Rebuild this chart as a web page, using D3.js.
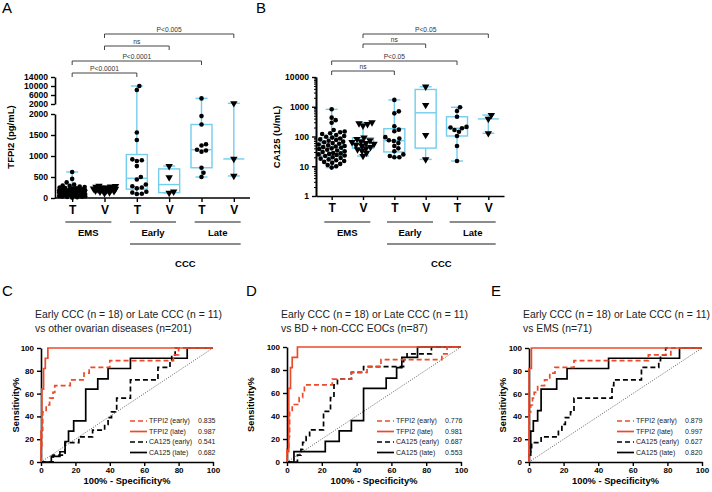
<!DOCTYPE html>
<html>
<head>
<meta charset="utf-8">
<script src="https://cdn.jsdelivr.net/npm/d3@7"></script>
<style>
body { margin: 0; background: #fff; }
svg { display: block; font-family: Arial, "Liberation Sans", sans-serif; }
</style>
</head>
<body>
<div id="svg-container"></div>
<script>
// ---- data: panels A and B ----
const tickLabels = ["T", "V", "T", "V", "T", "V"];
const groupNames = ["EMS", "Early", "Late"];

const tfpi2EmsT = [620, 455, 372, 318, 296, 288, 271, 262, 249, 238, 231, 224, 212, 205, 198, 192, 186, 181, 174, 168, 163, 158, 152, 147, 143, 139, 134, 128, 125, 121, 116, 112, 108, 103, 99, 94, 90, 86, 81, 77, 72, 68, 63, 58, 54, 49, 44, 38, 31, 26, 18, 9];
const tfpi2EmsV = [290, 281, 272, 262, 255, 246, 240, 231, 224, 214, 206, 198, 189, 181, 171, 160, 147, 133, 112];
const tfpi2EarlyT = [10000, 8200, 1560, 1380, 920, 900, 880, 760, 500, 440, 320, 280, 250, 230, 150, 130, 100, 95];
const tfpi2EarlyV = [760, 490, 150, 120];
const tfpi2LateT = [4500, 1950, 1750, 1280, 1250, 1150, 1130, 1100, 720, 600, 500];
const tfpi2LateV = [2300, 930, 525];

const ca125EmsT = [820, 430, 355, 290, 165, 148, 139, 128, 121, 112, 104, 98, 92, 86, 80, 76, 72, 67, 64, 60, 57, 54, 51, 48, 46, 44, 42, 40, 38, 36, 34, 32, 30, 28, 27, 26, 25, 24, 23, 22, 20, 19, 18, 17, 16, 15, 14, 13, 12, 11, 10, 9];
const ca125EmsV = [295, 275, 260, 230, 91, 82, 74, 68, 64, 60, 56, 52, 48, 44, 40, 37, 33, 28, 22];
const ca125EarlyT = [1700, 700, 600, 220, 170, 150, 95, 85, 75, 70, 60, 48, 40, 32, 25, 22, 20, 20];
const ca125EarlyV = [4700, 1140, 112, 17];
const ca125LateT = [960, 720, 460, 210, 200, 190, 165, 145, 104, 48, 15];
const ca125LateV = [525, 390, 128];

const tfpi2Brackets = [[0, 2, "P<0.0001"], [0, 4, "P<0.0001"], [1, 3, "ns"], [1, 5, "P<0.005"]];
const ca125Brackets = [[0, 2, "ns"], [0, 4, "P<0.05"], [1, 3, "ns"], [1, 5, "P<0.05"]];

// ---- data: ROC panels C, D, E  ([100% - specificity, sensitivity]) ----
const rocNames = ["TFPI2 (early)", "TFPI2 (late)", "CA125 (early)", "CA125 (late)"];

const rocC_tfpi2Early = [[0,0],[0,11],[0.5,11],[0.5,28],[1,28],[1,44],[3,44],[3,50],[5,50],[5,56],[7,56],[7,61],[8,61],[8,67],[17,67],[17,72],[25,72],[25,78],[28,78],[28,83],[40,83],[40,89],[77,89],[77,94],[80,94],[80,100],[100,100]];
const rocC_tfpi2Late = [[0,0],[0,27],[0.5,27],[0.5,64],[1.5,64],[1.5,82],[2.5,82],[2.5,91],[4,91],[4,100],[100,100]];
const rocC_ca125Early = [[0,0],[7,0],[7,6],[14,6],[14,17],[22,17],[22,22],[30,22],[30,28],[37,28],[37,33],[39,33],[39,39],[41,39],[41,44],[44,44],[44,56],[52,56],[52,72],[68,72],[68,83],[75,83],[75,89],[76,89],[76,94],[78,94],[78,100],[100,100]];
const rocC_ca125Late = [[0,0],[6,0],[6,5],[11,5],[11,9],[14,9],[14,18],[16,18],[16,27],[19,27],[19,36],[26,36],[26,64],[33,64],[33,73],[39,73],[39,82],[52,82],[52,91],[85,91],[85,100],[100,100]];
const aucC = ["0.835", "0.987", "0.541", "0.682"];

const rocD_tfpi2Early = [[0,0],[0,11],[1,11],[1,22],[1.5,22],[1.5,44],[3,44],[3,50],[7,50],[7,56],[9,56],[9,61],[10,61],[10,67],[26,67],[26,72],[37,72],[37,78],[46,78],[46,83],[54,83],[54,89],[89,89],[89,94],[92,94],[92,100],[100,100]];
const rocD_tfpi2Late = [[0,0],[0,9],[1,9],[1,64],[2,64],[2,82],[3,82],[3,91],[6,91],[6,100],[100,100]];
const rocD_ca125Early = [[0,0],[6,0],[6,6],[8,6],[8,11],[9,11],[9,17],[11,17],[11,22],[13,22],[13,28],[21,28],[21,44],[25,44],[25,56],[27,56],[27,67],[29,67],[29,72],[37,72],[37,78],[44,78],[44,83],[67,83],[67,89],[69,89],[69,94],[83,94],[83,100],[100,100]];
const rocD_ca125Late = [[0,0],[4,0],[4,9],[22,9],[22,18],[30,18],[30,27],[37,27],[37,36],[44,36],[44,64],[57,64],[57,73],[63,73],[63,82],[66,82],[66,91],[75,91],[75,100],[100,100]];
const aucD = ["0.776", "0.981", "0.687", "0.553"];

const rocE_tfpi2Early = [[0,0],[0,44],[1,44],[1,50],[2,50],[2,56],[3,56],[3,61],[5,61],[5,67],[9,67],[9,72],[12,72],[12,78],[15,78],[15,83],[26,83],[26,89],[69,89],[69,94],[82,94],[82,100],[100,100]];
const rocE_tfpi2Late = [[0,0],[0,82],[1.4,82],[1.4,100],[100,100]];
const rocE_ca125Early = [[0,0],[0,6],[1,6],[1,11],[1.5,11],[1.5,17],[7,17],[7,22],[17,22],[17,28],[19,28],[19,33],[21,33],[21,39],[24,39],[24,44],[26,44],[26,56],[48,56],[48,67],[49,67],[49,72],[65,72],[65,83],[75,83],[75,89],[76,89],[76,94],[79,94],[79,100],[100,100]];
const rocE_ca125Late = [[0,0],[0,9],[1,9],[1,27],[2.5,27],[2.5,36],[5,36],[5,45],[7,45],[7,64],[16,64],[16,73],[22,73],[22,82],[46,82],[46,91],[87,91],[87,100],[100,100]];
const aucE = ["0.879", "0.997", "0.627", "0.820"];

// ---- styles ----
const boxBlue = "#72cdee";
const red = "#ec4a2a";

const svg = d3.select("#svg-container").append("svg")
    .attr("width", 712)
    .attr("height", 492);

// quartiles the way Prism does it: position (n+1)p
const gpQuantile = (s, p) => {
    const n = s.length;
    const pos = (n + 1) * p;
    if (pos <= 1) return s[0];
    if (pos >= n) return s[n - 1];
    const lo = Math.floor(pos);
    return s[lo - 1] + (pos - lo) * (s[lo] - s[lo - 1]);
};

// spread points sideways so they do not sit on top of each other
const swarmOffsets = (ys, r, maxW) => {
    const placed = [];
    const out = new Array(ys.length).fill(0);
    const order = d3.range(ys.length).sort((a, b) => ys[b] - ys[a]);
    order.forEach(i => {
        const yy = ys[i];
        let best = 0, bestD = -1, found = false;
        for (let k = 0; k <= maxW && !found; k += 0.5) {
            const cands = k === 0 ? [0] : [k, -k];
            for (const dx of cands) {
                let dmin = Infinity;
                placed.forEach(p => {
                    const d = Math.hypot(p.dx - dx, p.y - yy);
                    if (d < dmin) dmin = d;
                });
                if (dmin >= 2 * r) { best = dx; found = true; break; }
                if (dmin > bestD) { bestD = dmin; best = dx; }
            }
        }
        placed.push({dx: best, y: yy});
        out[i] = best;
    });
    return out;
};

const triangle = d3.symbol().type(d3.symbolTriangle).size(24);

const drawColumn = (cx, vals, y, marker) => {
    const s = vals.slice().sort(d3.ascending);
    const n = s.length;
    const q1 = gpQuantile(s, 0.25), med = gpQuantile(s, 0.5), q3 = gpQuantile(s, 0.75);
    const bw = 21, cw = 12;
    const g = svg.append("g");
    g.append("line")
        .attr("x1", cx).attr("x2", cx)
        .attr("y1", y(s[0])).attr("y2", y(s[n - 1]))
        .attr("stroke", boxBlue).attr("stroke-width", 1.4);
    [s[0], s[n - 1]].forEach(v => {
        g.append("line")
            .attr("x1", cx - cw / 2).attr("x2", cx + cw / 2)
            .attr("y1", y(v)).attr("y2", y(v))
            .attr("stroke", boxBlue).attr("stroke-width", 1.4);
    });
    if (n > 3) {
        g.append("rect")
            .attr("x", cx - bw / 2).attr("y", y(q3))
            .attr("width", bw).attr("height", y(q1) - y(q3))
            .attr("fill", "white")
            .attr("stroke", boxBlue).attr("stroke-width", 1.4);
    }
    g.append("line")
        .attr("x1", cx - bw / 2).attr("x2", cx + bw / 2)
        .attr("y1", y(med)).attr("y2", y(med))
        .attr("stroke", boxBlue).attr("stroke-width", 1.4);

    const ys = vals.map(v => y(v));
    const offs = swarmOffsets(ys, 2.3, marker === "dot" ? 13 : 11);
    vals.forEach((v, i) => {
        if (marker === "dot") {
            g.append("circle")
                .attr("cx", cx + offs[i]).attr("cy", ys[i]).attr("r", 2.3)
                .attr("fill", "black");
        } else {
            g.append("path")
                .attr("d", triangle)
                .attr("transform", `translate(${cx + offs[i]},${ys[i]}) rotate(180)`)
                .attr("fill", "black");
        }
    });
};

const styleAxis = (g, fs) => {
    g.select(".domain").attr("stroke", "black").attr("stroke-width", 1.6);
    g.selectAll(".tick line").attr("stroke", "black").attr("stroke-width", 1.4);
    g.selectAll(".tick text")
        .attr("fill", "black")
        .style("font-size", fs + "px")
        .style("font-weight", "bold")
        .style("font-family", "Arial, 'Liberation Sans', sans-serif");
};

// bracket with p-value text
const drawBracket = (x1, x2, yb, label) => {
    svg.append("path")
        .attr("d", `M${x1},${yb + 4}V${yb}H${x2}V${yb + 4}`)
        .attr("fill", "none").attr("stroke", "#444").attr("stroke-width", 1);
    svg.append("text")
        .attr("x", (x1 + x2) / 2).attr("y", yb - 2.5)
        .attr("text-anchor", "middle")
        .attr("font-size", 6.7)
        .attr("fill", "#333")
        .text(label);
};

// group labels under the x axis
const drawGroups = (x) => {
    const mid = i => (x(2 * i) + x(2 * i + 1)) / 2;
    groupNames.forEach((name, i) => {
        svg.append("line")
            .attr("x1", mid(i) - 23).attr("x2", mid(i) + 23)
            .attr("y1", 222).attr("y2", 222)
            .attr("stroke", "#666").attr("stroke-width", 1.4);
        svg.append("text")
            .attr("x", mid(i)).attr("y", 236)
            .attr("text-anchor", "middle")
            .attr("font-size", 9.5).attr("font-weight", "bold")
            .text(name);
    });
    svg.append("line")
        .attr("x1", mid(1) - 23).attr("x2", mid(2) + 23)
        .attr("y1", 244).attr("y2", 244)
        .attr("stroke", "#666").attr("stroke-width", 1.4);
    svg.append("text")
        .attr("x", (mid(1) + mid(2)) / 2).attr("y", 267)
        .attr("text-anchor", "middle")
        .attr("font-size", 9.5).attr("font-weight", "bold")
        .text("CCC");
};

// ---------- panel A (broken y axis) ----------
const xA = d3.scalePoint().domain(d3.range(6)).range([56, 250]).padding(0.5);
const yLow = d3.scaleLinear().domain([0, 2000]).range([198, 114]);
const yHigh = d3.scaleLinear().domain([2000, 14000]).range([104, 77]);
const yA = v => v <= 2000 ? yLow(v) : yHigh(v);

svg.append("text").attr("x", 2).attr("y", 13).attr("font-size", 15).text("A");

const gLow = svg.append("g").attr("transform", "translate(55,0)")
    .call(d3.axisLeft(yLow).tickValues([0, 500, 1000, 1500, 2000]).tickFormat(d3.format("d")).tickSize(4).tickSizeOuter(0));
styleAxis(gLow, 8.6);
const gHigh = svg.append("g").attr("transform", "translate(55,0)")
    .call(d3.axisLeft(yHigh).tickValues([2000, 6000, 10000, 14000]).tickFormat(d3.format("d")).tickSize(4).tickSizeOuter(0));
styleAxis(gHigh, 8.6);

const gxA = svg.append("g").attr("transform", "translate(0,198)")
    .call(d3.axisBottom(xA).tickFormat(i => tickLabels[i]).tickSize(4).tickSizeOuter(0));
styleAxis(gxA, 12);
gxA.select(".domain").attr("d", "M55,0H250");

svg.append("text")
    .attr("transform", "translate(14,137) rotate(-90)")
    .attr("text-anchor", "middle")
    .attr("font-size", 9.5).attr("font-weight", "bold")
    .text("TFPI2 (pg/mL)");

[tfpi2EmsT, tfpi2EmsV, tfpi2EarlyT, tfpi2EarlyV, tfpi2LateT, tfpi2LateV].forEach((vals, i) => {
    drawColumn(xA(i), vals, yA, i % 2 === 0 ? "dot" : "tri");
});

const aBracketY = [73, 61, 46, 34];
tfpi2Brackets.forEach((b, i) => drawBracket(xA(b[0]), xA(b[1]), aBracketY[i], b[2]));
drawGroups(xA);

// ---------- panel B (log y axis) ----------
const xB = d3.scalePoint().domain(d3.range(6)).range([316, 504]).padding(0.5);
const yB = d3.scaleLog().domain([1, 10000]).range([196, 77]);

svg.append("text").attr("x", 256).attr("y", 13).attr("font-size", 15).text("B");

const minorTicks = [];
[1, 10, 100, 1000].forEach(d => d3.range(2, 10).forEach(k => minorTicks.push(d * k)));
const gMinor = svg.append("g").attr("transform", "translate(316,0)")
    .call(d3.axisLeft(yB).tickValues(minorTicks).tickFormat("").tickSize(2).tickSizeOuter(0));
styleAxis(gMinor, 8);
gMinor.selectAll(".tick line").attr("stroke-width", 1);
const gyB = svg.append("g").attr("transform", "translate(316,0)")
    .call(d3.axisLeft(yB).tickValues([1, 10, 100, 1000, 10000]).tickFormat(d3.format("d")).tickSize(4).tickSizeOuter(0));
styleAxis(gyB, 8.6);

const gxB = svg.append("g").attr("transform", "translate(0,196)")
    .call(d3.axisBottom(xB).tickFormat(i => tickLabels[i]).tickSize(4).tickSizeOuter(0));
styleAxis(gxB, 12);

svg.append("text")
    .attr("transform", "translate(280,137) rotate(-90)")
    .attr("text-anchor", "middle")
    .attr("font-size", 9.5).attr("font-weight", "bold")
    .text("CA125 (U/mL)");

[ca125EmsT, ca125EmsV, ca125EarlyT, ca125EarlyV, ca125LateT, ca125LateV].forEach((vals, i) => {
    drawColumn(xB(i), vals, yB, i % 2 === 0 ? "dot" : "tri");
});

const bBracketY = [71, 61, 44, 34];
ca125Brackets.forEach((b, i) => drawBracket(xB(b[0]), xB(b[1]), bBracketY[i], b[2]));
drawGroups(xB);

// ---------- ROC panels ----------
const rocStyles = [
    {color: red, dash: "5,3"},
    {color: red, dash: null},
    {color: "black", dash: "5,3"},
    {color: "black", dash: null}
];

const drawRoc = (p) => {
    const x = d3.scaleLinear().domain([0, 100]).range([p.left, p.right]);
    const y = d3.scaleLinear().domain([0, 100]).range([p.bottom, p.top]);

    svg.append("text").attr("x", p.letterX).attr("y", 296).attr("font-size", 15).text(p.letter);
    p.title.forEach((t, i) => {
        svg.append("text")
            .attr("x", p.left - 6).attr("y", 318 + i * 13.5)
            .attr("font-size", 10.4).attr("fill", "#222")
            .text(t);
    });

    svg.append("line")
        .attr("x1", x(0)).attr("y1", y(0)).attr("x2", x(100)).attr("y2", y(100))
        .attr("stroke", "#333").attr("stroke-width", 0.8)
        .attr("stroke-dasharray", "1,1.5");

    const gx = svg.append("g").attr("transform", `translate(0,${p.bottom})`)
        .call(d3.axisBottom(x).tickValues([0, 20, 40, 60, 80, 100]).tickSize(4).tickPadding(1.5).tickSizeOuter(0));
    styleAxis(gx, 8);
    const gy = svg.append("g").attr("transform", `translate(${p.left},0)`)
        .call(d3.axisLeft(y).tickValues([0, 20, 40, 60, 80, 100]).tickSize(4).tickSizeOuter(0));
    styleAxis(gy, 8);

    svg.append("text")
        .attr("x", (p.left + p.right) / 2).attr("y", 483.5)
        .attr("text-anchor", "middle")
        .attr("font-size", 9.3).attr("font-weight", "bold")
        .text("100% - Specificity%");
    svg.append("text")
        .attr("transform", `translate(${p.yLabelX},${(p.top + p.bottom) / 2}) rotate(-90)`)
        .attr("text-anchor", "middle")
        .attr("dy", "0.35em")
        .attr("font-size", 9.3).attr("font-weight", "bold")
        .text("Sensitivity%");

    const line = d3.line().x(d => x(d[0])).y(d => y(d[1]));
    [2, 3, 0, 1].forEach(k => {
        svg.append("path")
            .datum(p.curves[k])
            .attr("d", line)
            .attr("fill", "none")
            .attr("stroke", rocStyles[k].color)
            .attr("stroke-width", 1.7)
            .attr("stroke-dasharray", rocStyles[k].dash);
    });

    const legendY = [421, 431.5, 442, 452.5];
    rocNames.forEach((name, k) => {
        svg.append("line")
            .attr("x1", p.legendX).attr("x2", p.legendX + 17)
            .attr("y1", legendY[k]).attr("y2", legendY[k])
            .attr("stroke", rocStyles[k].color).attr("stroke-width", 1.7)
            .attr("stroke-dasharray", rocStyles[k].dash);
        svg.append("text")
            .attr("x", p.legendX + 19).attr("y", legendY[k]).attr("dy", "0.35em")
            .attr("font-size", 7).attr("fill", "#222")
            .text(name);
        svg.append("text")
            .attr("x", p.legendX + 68).attr("y", legendY[k]).attr("dy", "0.35em")
            .attr("font-size", 7).attr("fill", "#222")
            .text(p.auc[k]);
    });
};

drawRoc({
    letter: "C", letterX: 2, left: 41, right: 213, top: 348, bottom: 462, yLabelX: 16, legendX: 130,
    title: ["Early CCC (n = 18) or Late CCC (n = 11)", "vs other ovarian diseases (n=201)"],
    curves: [rocC_tfpi2Early, rocC_tfpi2Late, rocC_ca125Early, rocC_ca125Late], auc: aucC
});
drawRoc({
    letter: "D", letterX: 246, left: 287, right: 461, top: 347, bottom: 462, yLabelX: 251, legendX: 377,
    title: ["Early CCC (n = 18) or Late CCC (n = 11)", "vs BD + non-CCC EOCs (n=87)"],
    curves: [rocD_tfpi2Early, rocD_tfpi2Late, rocD_ca125Early, rocD_ca125Late], auc: aucD
});
drawRoc({
    letter: "E", letterX: 491, left: 529, right: 702, top: 348, bottom: 462, yLabelX: 503, legendX: 617,
    title: ["Early CCC (n = 18) or Late CCC (n = 11)", "vs EMS (n=71)"],
    curves: [rocE_tfpi2Early, rocE_tfpi2Late, rocE_ca125Early, rocE_ca125Late], auc: aucE
});
</script>
</body>
</html>
